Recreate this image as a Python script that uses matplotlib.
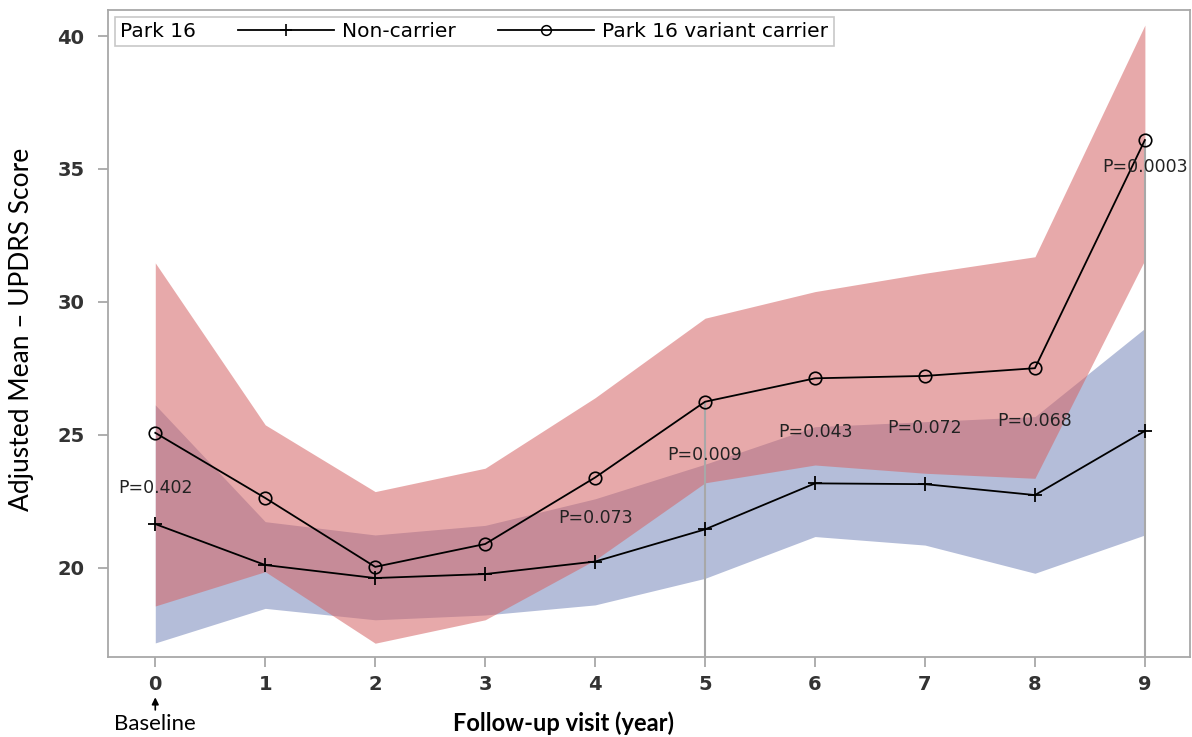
import matplotlib
matplotlib.use("Agg")
import matplotlib.pyplot as plt
from matplotlib.lines import Line2D

# follow-up year
years = [0, 1, 2, 3, 4, 5, 6, 7, 8, 9]
year_labels = ['0', '1', '2', '3', '4', '5', '6', '7', '8', '9']

# adjusted mean UPDRS
noncarrier = [21.65, 20.11, 19.62, 19.77, 20.24, 21.45, 23.18, 23.15, 22.74, 25.15]
noncarrier_hi = [26.13, 21.74, 21.24, 21.6, 22.6, 23.9, 25.31, 25.5, 25.69, 29.01]
noncarrier_lo = [17.18, 18.48, 18.05, 18.23, 18.61, 19.61, 21.18, 20.86, 19.80, 21.24]

carrier = [25.08, 22.63, 20.04, 20.90, 23.40, 26.25, 27.13, 27.22, 27.51, 36.09]
carrier_hi = [31.47, 25.38, 22.87, 23.75, 26.4, 29.39, 30.39, 31.08, 31.70, 40.41]
carrier_lo = [18.57, 19.86, 17.17, 18.05, 20.30, 23.2, 23.87, 23.56, 23.37, 31.58]

# p values
p_x = [0, 4, 5, 6, 7, 8, 9]
p_y = [23.02, 21.87, 24.25, 25.12, 25.25, 25.54, 35.09]
p_text = ['P=0.402', 'P=0.073', 'P=0.009', 'P=0.043', 'P=0.072', 'P=0.068', 'P=0.0003']

drop_x = [5, 9]
drop_top = [26.25, 36.09]

yticks = [20, 25, 30, 35, 40]

grey = '#a8a8a8'

fig = plt.figure(figsize=(11.92, 7.37), dpi=100)
ax = fig.add_axes([0.0906, 0.1085, 0.9077, 0.878])

ax.fill_between(years, noncarrier_lo, noncarrier_hi, color='#b4bdd9', lw=0, zorder=1)
ax.fill_between(years, carrier_lo, carrier_hi, color='#d56364', alpha=0.55, lw=0, zorder=1.5)

ax.vlines(drop_x, 16.65, drop_top, color=grey, lw=1.5, zorder=2)

ax.plot(years, noncarrier, color='black', lw=1.3, marker='+', ms=10, mew=1.3, zorder=3)
ax.plot(years, carrier, color='black', lw=1.3, marker='o', ms=9, mfc='none', mec='black', mew=1.2, zorder=3)

for x, y, t in zip(p_x, p_y, p_text):
    ax.text(x, y, t, ha='center', va='center', fontsize=12.5, family='DejaVu Sans', color='#222222', zorder=4)

ax.set_xlim(-0.43, 9.41)
ax.set_ylim(16.65, 40.98)
ax.set_xticks(years)
ax.set_xticklabels(year_labels)
ax.set_yticks(yticks)

for s in ax.spines.values():
    s.set_color(grey)
    s.set_linewidth(1.3)
ax.tick_params(axis='both', colors=grey, length=7, width=1.3, direction='out')
ax.tick_params(axis='y', pad=10)
ax.tick_params(axis='x', pad=6)
for lab in ax.get_xticklabels() + ax.get_yticklabels():
    lab.set_fontsize(14)
    lab.set_fontweight('bold')
    lab.set_color('#333333')
    lab.set_family('DejaVu Sans')

ax.set_ylabel('Adjusted Mean \u2013 UPDRS Score', fontsize=19, family='Lato', color='black')
ax.yaxis.label.set_va('center')
ax.yaxis.set_label_coords(-0.0795, 0.507)

ax.set_xlabel('Follow-up visit (year)', fontsize=17, family='Lato', fontweight='bold', color='black')
ax.xaxis.label.set_va('center')
ax.xaxis.set_label_coords(0.421, -0.102)

# baseline marker under 0
ax.annotate('', xy=(0, -0.058), xytext=(0, -0.086), xycoords=ax.get_xaxis_transform(),
            textcoords=ax.get_xaxis_transform(),
            arrowprops=dict(arrowstyle='-|>', color='black', lw=1.2, mutation_scale=10),
            annotation_clip=False)
ax.text(0, -0.104, 'Baseline', transform=ax.get_xaxis_transform(), ha='center', va='center',
        fontsize=16, family='Lato', color='black')

# legend, with the "Park 16" title on the left
handles = [Line2D([], [], color='black', lw=1.3, marker='+', ms=9, mew=1.2),
           Line2D([], [], color='black', lw=1.3, marker='o', ms=7, mfc='none', mec='black', mew=1.1)]
leg = ax.legend(handles, ['Non-carrier', 'Park 16 variant carrier'], title='Park 16', ncol=2,
                loc='upper left', bbox_to_anchor=(0.0065, 0.989), borderaxespad=0,
                fancybox=False, edgecolor='#c8c8c8', framealpha=1, handlelength=4.8,
                columnspacing=1.0, handletextpad=0.4, borderpad=0.25,
                prop={'family': 'DejaVu Sans', 'size': 14.5})
leg.get_title().set_fontsize(14.5)
leg.get_title().set_family('DejaVu Sans')
leg.get_frame().set_linewidth(1.2)
c = leg.get_children()[0]
title_box = c.get_children()[0]
hpack = c.get_children()[1]
c._children = [hpack]
hpack._children = [title_box] + hpack.get_children()
hpack.sep = 30

fig.savefig('out.png', dpi=100)
